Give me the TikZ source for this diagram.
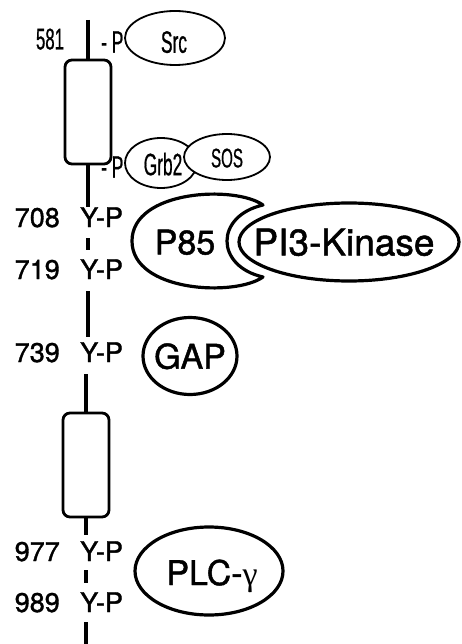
\documentclass[tikz,border=0pt]{standalone}
\usepackage{fontspec}
\setmainfont{TeX Gyre Heros}
\newfontfamily\heavyfont[FakeBold=1.3]{TeX Gyre Heros}
\newfontfamily\narrowfont[FakeStretch=0.56,FakeBold=0.6]{Liberation Sans}
\newfontfamily\gammafont{Liberation Serif}
\usetikzlibrary{shapes.geometric}
\begin{document}
\begin{tikzpicture}[x=1pt,y=-1pt,
  spineline/.style={line width=3.2pt},
  domainbox/.style={draw, line width=2.8pt, rounded corners=7pt, minimum width=46pt, minimum height=104pt, inner sep=0pt},
  smallell/.style={draw, ellipse, line width=1.8pt, inner sep=0pt, fill=white},
  bigell/.style={draw, ellipse, line width=3.2pt, inner sep=0pt},
  sitelbl/.style={font=\heavyfont\fontsize{27}{27}\selectfont, inner sep=0pt, text depth=0pt},
  narrowlbl/.style={font=\narrowfont\fontsize{31}{31}\selectfont, inner sep=0pt, text depth=0pt},
  biglbl/.style={font=\heavyfont\fontsize{34}{34}\selectfont, inner sep=0pt, text depth=0pt}]
\useasboundingbox (0,0) rectangle (462,644);

% ---------- upper part ----------
\coordinate (top) at (88,20);
\coordinate (bottom) at (87,644);
\node[domainbox] (box1) at (88,112) {};
\draw[spineline] (top) -- (box1.north);
\node[narrowlbl, font=\narrowfont\fontsize{30}{30}\selectfont] (n581) at (50,39) {581};
\node[narrowlbl, anchor=west] (p581) at (101,42) {- P};
\node[smallell, minimum width=100pt, minimum height=54pt] (src) at (175,38) {};
\node[narrowlbl] (srclbl) at (174,42) {Src};

\node[narrowlbl, anchor=west] (pgrb) at (101,167) {- P};
\node[smallell, minimum width=72pt, minimum height=50pt] (grb2) at (161,163) {};
\node[smallell, minimum width=86pt, minimum height=46pt] (sos) at (227,157) {};
\node[narrowlbl] (grb2lbl) at (163,164) {Grb2};
\node[narrowlbl, font=\narrowfont\fontsize{27}{27}\selectfont] (soslbl) at (227,158) {SOS};

% ---------- site labels ----------
\node[sitelbl, anchor=base west] (y708) at (80,227) {Y-P};
\node[sitelbl, anchor=base east] (n708) at (60,227) {708};
\node[sitelbl, anchor=base west] (y719) at (80,279) {Y-P};
\node[sitelbl, anchor=base east] (n719) at (60,279) {719};
\node[sitelbl, anchor=base west] (y739) at (80,362) {Y-P};
\node[sitelbl, anchor=base east] (n739) at (60,362) {739};
\node[sitelbl, anchor=base west] (y977) at (80,561) {Y-P};
\node[sitelbl, anchor=base east] (n977) at (60,561) {977};
\node[sitelbl, anchor=base west] (y989) at (80,612) {Y-P};
\node[sitelbl, anchor=base east] (n989) at (60,612) {989};

\node[domainbox] (box2) at (86,465) {};

% ---------- spine ----------
\draw[spineline] (box1.south) -- (box1.south |- y708.north);
\draw[spineline, shorten <=11pt, shorten >=9pt] (y708.south -| box1.south) -- (y719.north -| box1.south);
\draw[spineline, shorten <=12pt, shorten >=5pt] (y719.south -| box1.south) -- (y739.north -| box1.south);
\draw[spineline, shorten <=12pt] (y739.south -| box2.north) -- (box2.north);
\draw[spineline, shorten >=6pt] (box2.south) -- (box2.south |- y977.north);
\draw[spineline, shorten <=9pt, shorten >=9pt] (box2.south |- y977.south) -- (box2.south |- y989.north);
\draw[spineline, shorten <=10pt] (box2.south |- y989.south) -- (box2.south |- bottom);

% ---------- P85 / PI3-Kinase ----------
\draw[line width=3.2pt, line join=round]
  (263,205) .. controls (235,185) and (132,190) .. (132,241)
  .. controls (132,292) and (235,297) .. (263,277)
  .. controls (215,266) and (215,216) .. (263,205) -- cycle;
\node[biglbl] (p85lbl) at (185,242) {P85};
\node[bigell, minimum width=220pt, minimum height=78pt] (pi3) at (349,242) {};
\node[biglbl, font=\heavyfont\fontsize{37}{37}\selectfont] (pi3lbl) at (344,242) {PI3-Kinase};

% ---------- GAP ----------
\node[bigell, minimum width=94pt, minimum height=77pt] (gap) at (190,356) {};
\node[biglbl] (gaplbl) at (gap) {GAP};

% ---------- PLC ----------
\node[bigell, minimum width=148pt, minimum height=88pt] (plc) at (209,571) {};
\node[biglbl, anchor=base] (plclbl) at (212,585) {PLC-{\gammafont γ}};
\end{tikzpicture}
\end{document}
